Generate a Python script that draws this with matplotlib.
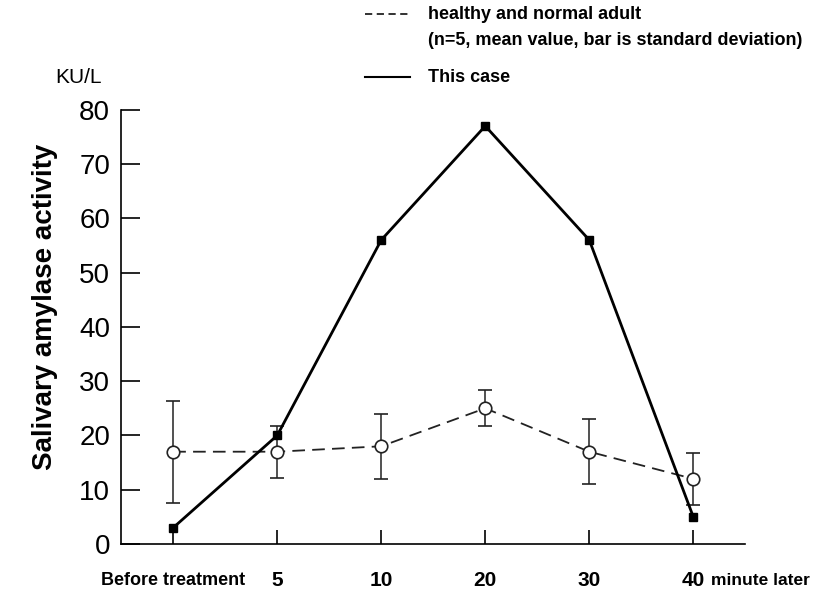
import matplotlib
matplotlib.use('Agg')
import matplotlib.pyplot as plt
from matplotlib.lines import Line2D

plt.rcParams['font.family'] = ['Liberation Sans', 'DejaVu Sans']

# data
time_labels = ['Before treatment', '5', '10', '20', '30', '40']
this_case = [3, 20, 56, 77, 56, 5]
healthy_mean = [17, 17, 18, 25, 17, 12]
healthy_sd = [9.4, 4.8, 6.0, 3.3, 6.0, 4.8]
y_ticks = [0, 10, 20, 30, 40, 50, 60, 70, 80]

fig = plt.figure(figsize=(8.19, 5.9), dpi=100)
ax = fig.add_axes([0.148, 0.078, 0.762, 0.736])

xpos = list(range(len(time_labels)))

ax.errorbar(xpos, healthy_mean, yerr=healthy_sd, color='#222222', lw=1.3,
            ls=(0, (7, 4)), marker='o', ms=9, mfc='white', mec='#222222',
            mew=1.2, capsize=5, elinewidth=1.1, capthick=1.1, zorder=2)
ax.plot(xpos, this_case, color='black', lw=2, marker='s', ms=5.5,
        mfc='black', zorder=3)

ax.set_xlim(-0.5, 5.5)
ax.set_ylim(0, 80)
ax.set_yticks(y_ticks)
ax.set_yticklabels([str(v) for v in y_ticks], fontsize=20)
ax.set_xticks(xpos)
ax.set_xticklabels([''] * len(xpos))
ax.tick_params(axis='y', direction='in', length=14, width=1.2, pad=8)
ax.tick_params(axis='x', direction='in', length=10, width=1.2)

for s in ['top', 'right']:
    ax.spines[s].set_visible(False)
for s in ['left', 'bottom']:
    ax.spines[s].set_linewidth(1.2)

# x tick labels drawn as text so the "minute later" part can be smaller
for i, lab in enumerate(time_labels):
    if i == 0:
        ax.text(i, -0.085, lab, transform=ax.get_xaxis_transform(), ha='center',
                va='center', fontsize=13, fontweight='bold')
    else:
        ax.text(i, -0.085, lab, transform=ax.get_xaxis_transform(), ha='center',
                va='center', fontsize=15, fontweight='bold')
ax.text(5.17, -0.085, 'minute later', transform=ax.get_xaxis_transform(),
        ha='left', va='center', fontsize=12.5, fontweight='bold')

ax.set_ylabel('Salivary amylase activity', fontsize=20, fontweight='bold')
ax.yaxis.set_label_coords(-0.102, 0.546)
fig.text(0.067, 0.868, 'KU/L', fontsize=15, ha='left', va='center')

# legend by hand
fig.add_artist(Line2D([0.446, 0.50], [0.976, 0.976], color='#222222', lw=1.3,
                      ls=(0, (4, 2.5))))
fig.text(0.523, 0.976, 'healthy and normal adult', fontsize=13,
         fontweight='bold', va='center')
fig.text(0.523, 0.932, '(n=5, mean value, bar is standard deviation)',
         fontsize=13, fontweight='bold', va='center')
fig.add_artist(Line2D([0.446, 0.50], [0.869, 0.869], color='black', lw=1.5))
fig.text(0.523, 0.869, 'This case', fontsize=13, fontweight='bold',
         va='center')

fig.savefig('out.png', dpi=100)
